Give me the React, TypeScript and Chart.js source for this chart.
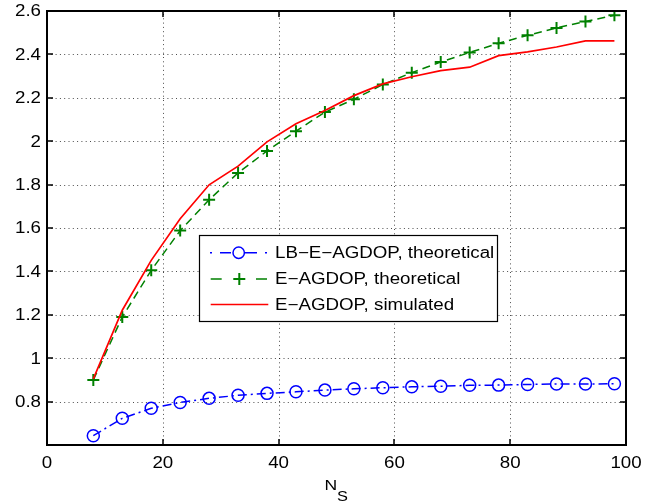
import React, { useEffect, useRef } from 'react';
import { Chart, registerables } from 'chart.js';

Chart.register(...registerables);

// ---- data ----
const nsValues = [8, 13, 18, 23, 28, 33, 38, 43, 48, 53, 58, 63, 68, 73, 78, 83, 88, 93, 98];
const lbTheoretical = [0.643, 0.723, 0.769, 0.796, 0.815, 0.829, 0.838, 0.845, 0.853, 0.859, 0.864, 0.868, 0.871, 0.875, 0.876, 0.879, 0.881, 0.881, 0.882];
const eTheoretical = [0.9, 1.19, 1.405, 1.588, 1.73, 1.854, 1.955, 2.046, 2.134, 2.193, 2.261, 2.316, 2.365, 2.409, 2.451, 2.488, 2.522, 2.552, 2.58];
const eSimulated = [0.905, 1.221, 1.451, 1.643, 1.799, 1.885, 1.997, 2.08, 2.141, 2.21, 2.264, 2.297, 2.325, 2.341, 2.394, 2.412, 2.434, 2.462, 2.462];

const xTicks = [0, 20, 40, 60, 80, 100];
const xTickLabels = ['0', '20', '40', '60', '80', '100'];
const yTicks = [0.8, 1, 1.2, 1.4, 1.6, 1.8, 2, 2.2, 2.4, 2.6];
const yTickLabels = ['0.8', '1', '1.2', '1.4', '1.6', '1.8', '2', '2.2', '2.4', '2.6'];
const legendLabels = ['LB\u2212E\u2212AGDOP, theoretical', 'E\u2212AGDOP, theoretical', 'E\u2212AGDOP, simulated'];
const xTitleMain = 'N';
const xTitleSub = 'S';

const FONT = "'Liberation Sans', Arial, Helvetica, sans-serif";
const SX = 1.17;

function stretchedText(ctx: CanvasRenderingContext2D, text: string, x: number, y: number, align: CanvasTextAlign, size: number) {
  ctx.save();
  ctx.translate(x, y);
  ctx.scale(SX, 1);
  ctx.font = `${size}px ${FONT}`;
  ctx.textAlign = align;
  ctx.textBaseline = 'middle';
  ctx.fillStyle = '#000';
  ctx.fillText(text, 0, 0);
  ctx.restore();
}

const matlabPlugin = {
  id: 'matlabStyle',
  beforeDatasetsDraw(chart: any) {
    const { ctx, chartArea: a, scales } = chart;
    const xs = scales.x;
    const ys = scales.y;
    ctx.save();
    ctx.strokeStyle = 'rgba(0,0,0,0.7)';
    ctx.lineWidth = 1;
    ctx.setLineDash([1, 3.3]);
    xTicks.forEach((v) => {
      if (v <= xs.min || v >= xs.max) return;
      const px = Math.round(xs.getPixelForValue(v)) + 0.5;
      ctx.beginPath();
      ctx.moveTo(px, a.bottom);
      ctx.lineTo(px, a.top);
      ctx.stroke();
    });
    yTicks.forEach((v) => {
      if (v <= ys.min + 1e-9 || v >= ys.max - 1e-9) return;
      const py = Math.round(ys.getPixelForValue(v)) + 0.5;
      ctx.beginPath();
      ctx.moveTo(a.left, py);
      ctx.lineTo(a.right, py);
      ctx.stroke();
    });
    ctx.restore();
  },
  afterDatasetsDraw(chart: any) {
    const { ctx, chartArea: a, scales } = chart;
    const xs = scales.x;
    const ys = scales.y;
    ctx.save();
    // box
    ctx.strokeStyle = '#000';
    ctx.lineWidth = 2;
    ctx.setLineDash([]);
    ctx.strokeRect(Math.round(a.left), Math.round(a.top), Math.round(a.right) - Math.round(a.left), Math.round(a.bottom) - Math.round(a.top));
    // inward ticks
    ctx.lineWidth = 1.5;
    const tl = 6;
    xTicks.forEach((v) => {
      const px = Math.round(xs.getPixelForValue(v));
      ctx.beginPath();
      ctx.moveTo(px, a.bottom);
      ctx.lineTo(px, a.bottom - tl);
      ctx.moveTo(px, a.top);
      ctx.lineTo(px, a.top + tl);
      ctx.stroke();
    });
    yTicks.forEach((v) => {
      const py = Math.round(ys.getPixelForValue(v));
      ctx.beginPath();
      ctx.moveTo(a.left, py);
      ctx.lineTo(a.left + tl, py);
      ctx.moveTo(a.right, py);
      ctx.lineTo(a.right - tl, py);
      ctx.stroke();
    });
    // tick labels
    xTicks.forEach((v, i) => {
      stretchedText(ctx, xTickLabels[i], xs.getPixelForValue(v), a.bottom + 18.5, 'center', 16);
    });
    yTicks.forEach((v, i) => {
      stretchedText(ctx, yTickLabels[i], a.left - 6, ys.getPixelForValue(v) + 1, 'right', 16);
    });
    // x title N_S
    ctx.font = `15px ${FONT}`;
    ctx.fillStyle = '#000';
    ctx.textBaseline = 'alphabetic';
    ctx.textAlign = 'left';
    ctx.save();
    ctx.translate(324.5, 490);
    ctx.scale(SX, 1);
    ctx.fillText(xTitleMain, 0, 0);
    ctx.restore();
    ctx.save();
    ctx.translate(337, 501);
    ctx.scale(SX, 1);
    ctx.font = `14px ${FONT}`;
    ctx.fillText(xTitleSub, 0, 0);
    ctx.restore();

    // legend
    const lx = 199.5, ly = 235.5, lw = 298, lh = 86;
    ctx.fillStyle = '#fff';
    ctx.fillRect(lx, ly, lw, lh);
    ctx.strokeStyle = '#000';
    ctx.lineWidth = 1.2;
    ctx.strokeRect(lx, ly, lw, lh);
    const rows = [252.7, 279, 304.5];
    // blue dash-dot with circle
    ctx.strokeStyle = '#0000ff';
    ctx.lineWidth = 1.5;
    ctx.beginPath();
    [[210, 212], [220, 231], [245, 257], [265, 267]].forEach(([s, e]) => {
      ctx.moveTo(s, rows[0]);
      ctx.lineTo(e, rows[0]);
    });
    ctx.stroke();
    ctx.beginPath();
    ctx.arc(238.7, rows[0], 5.7, 0, Math.PI * 2);
    ctx.stroke();
    // green dashed with plus
    ctx.strokeStyle = '#008000';
    ctx.lineWidth = 1.5;
    ctx.beginPath();
    ctx.moveTo(210.7, rows[1]);
    ctx.lineTo(221.7, rows[1]);
    ctx.moveTo(256, rows[1]);
    ctx.lineTo(267, rows[1]);
    ctx.stroke();
    ctx.lineWidth = 2;
    ctx.beginPath();
    ctx.moveTo(239.3 - 6, rows[1]);
    ctx.lineTo(239.3 + 6, rows[1]);
    ctx.moveTo(239.3, rows[1] - 6);
    ctx.lineTo(239.3, rows[1] + 6);
    ctx.stroke();
    // red solid
    ctx.strokeStyle = '#ff0000';
    ctx.lineWidth = 1.7;
    ctx.beginPath();
    ctx.moveTo(210.7, rows[2]);
    ctx.lineTo(268.3, rows[2]);
    ctx.stroke();
    legendLabels.forEach((t, i) => stretchedText(ctx, t, 275, rows[i] + 1, 'left', 16));
    ctx.restore();
  },
};

export default function App() {
  const ref = useRef<HTMLCanvasElement | null>(null);
  useEffect(() => {
    if (!ref.current) return;
    const toPts = (ys: number[]) => nsValues.map((x, i) => ({ x, y: ys[i] }));
    const chart = new Chart(ref.current, {
      type: 'line',
      data: {
        datasets: [
          {
            label: legendLabels[0],
            data: toPts(lbTheoretical),
            borderColor: '#0000ff',
            borderWidth: 1.5,
            borderDash: [9, 4, 2, 4],
            pointStyle: 'circle',
            pointRadius: 6,
            pointBorderWidth: 1.5,
            pointBorderColor: '#0000ff',
            pointBackgroundColor: 'rgba(0,0,0,0)',
            tension: 0,
            fill: false,
            order: 3,
          },
          {
            label: legendLabels[1],
            data: toPts(eTheoretical),
            borderColor: '#008000',
            borderWidth: 1.5,
            borderDash: [8, 5],
            pointStyle: 'cross',
            pointRadius: 6,
            pointBorderWidth: 2,
            pointBorderColor: '#008000',
            pointBackgroundColor: '#008000',
            tension: 0,
            fill: false,
            order: 2,
          },
          {
            label: legendLabels[2],
            data: toPts(eSimulated),
            borderColor: '#ff0000',
            borderWidth: 1.7,
            pointRadius: 0,
            tension: 0,
            fill: false,
            order: 1,
          },
        ],
      },
      options: {
        responsive: false,
        animation: false,
        events: [],
        layout: { padding: { top: 11, right: 34, left: 0, bottom: 0 } },
        plugins: { legend: { display: false }, tooltip: { enabled: false }, title: { display: false } },
        scales: {
          x: {
            type: 'linear',
            min: 0,
            max: 100,
            ticks: { display: false, stepSize: 20 },
            grid: { display: false },
            border: { display: false },
            afterFit: (s: any) => { s.height = 58; },
          },
          y: {
            type: 'linear',
            min: 0.6,
            max: 2.6,
            ticks: { display: false, stepSize: 0.2 },
            grid: { display: false },
            border: { display: false },
            afterFit: (s: any) => { s.width = 47; },
          },
        },
      },
      plugins: [matlabPlugin],
    });
    return () => chart.destroy();
  }, []);
  return (
    <div style={{ position: 'fixed', left: 0, top: 0, width: 660, height: 503, background: '#fff' }}>
      <canvas ref={ref} width={660} height={503} style={{ display: 'block' }} />
    </div>
  );
}
